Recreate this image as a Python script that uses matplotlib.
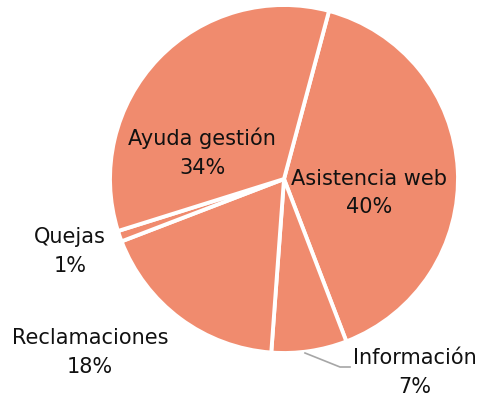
import matplotlib
matplotlib.use('Agg')
import matplotlib.pyplot as plt

# Datos del gráfico
categorias = ['Asistencia web', 'Información', 'Reclamaciones', 'Quejas', 'Ayuda gestión']
porcentajes = [40, 7, 18, 1, 34]

color_sector = '#F08B6E'

fig = plt.figure(figsize=(4.85, 3.99), dpi=100)
ax = fig.add_axes([0, 0, 1, 1])

# Centro (284, 179) px y radio 174 px
cx, cy, r = 284, 179, 174
W, H = 485, 399

ax.pie(porcentajes, startangle=75, counterclock=False, radius=1,
       colors=[color_sector] * len(porcentajes),
       wedgeprops=dict(edgecolor='white', linewidth=2.8))
ax.set_aspect('equal', adjustable='datalim')
ax.set_xlim(-cx / r, (W - cx) / r)
ax.set_ylim(-(H - cy) / r, cy / r)
ax.axis('off')

# Posiciones de las etiquetas
pos_etiquetas = {
    'Asistencia web': (0.49, -0.08),
    'Información': (0.753, -1.112),
    'Reclamaciones': (-1.115, -0.997),
    'Quejas': (-1.23, -0.415),
    'Ayuda gestión': (-0.47, 0.15),
}

for cat, val in zip(categorias, porcentajes):
    x, y = pos_etiquetas[cat]
    ax.text(x, y, f'{cat}\n{val}%', ha='center', va='center',
            fontsize=15, linespacing=1.55, color='#111111')

# Línea guía de Información
ax.plot([(305 - cx) / r, (340 - cx) / r, (350 - cx) / r],
        [(cy - 353) / r, (cy - 367) / r, (cy - 367) / r],
        color='#A6A6A6', linewidth=1.2)

fig.savefig('out.png', dpi=100)
